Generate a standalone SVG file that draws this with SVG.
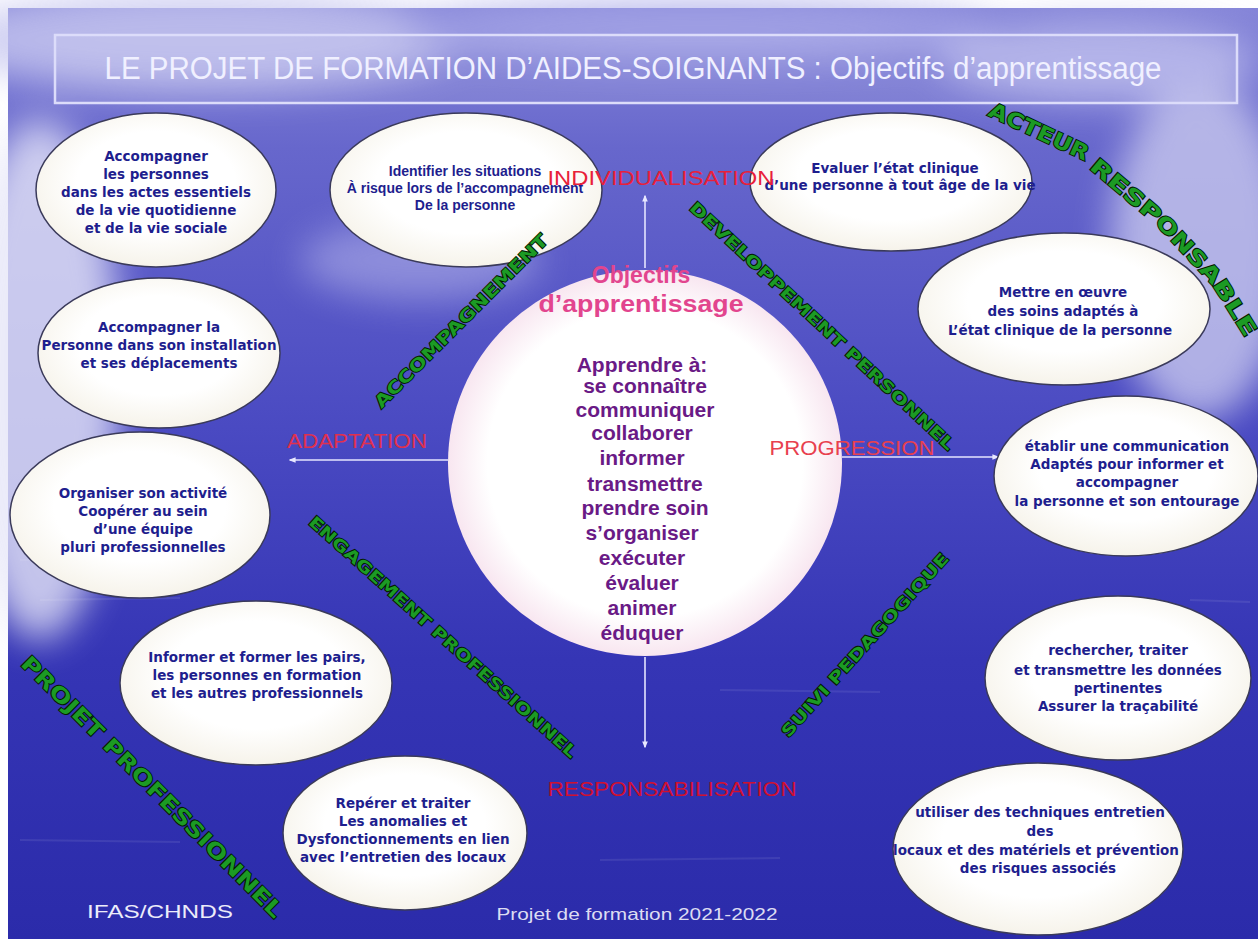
<svg xmlns="http://www.w3.org/2000/svg" width="1258" height="939" viewBox="0 0 1258 939">
<defs>
<linearGradient id="bg" x1="0" y1="0" x2="0" y2="1">
<stop offset="0" stop-color="#8585d8"/>
<stop offset="0.15" stop-color="#6767cc"/>
<stop offset="0.45" stop-color="#4a4ac2"/>
<stop offset="0.7" stop-color="#3535b5"/>
<stop offset="1" stop-color="#2b2baa"/>
</linearGradient>
<radialGradient id="ell" cx="0.5" cy="0.45" r="0.55">
<stop offset="0.6" stop-color="#ffffff"/>
<stop offset="1" stop-color="#f6f3ea"/>
</radialGradient>
<radialGradient id="circ" cx="0.5" cy="0.5" r="0.5">
<stop offset="0.8" stop-color="#ffffff"/>
<stop offset="1" stop-color="#f8e6f0"/>
</radialGradient>
<filter id="blur" x="-0.3" y="-0.3" width="1.6" height="1.6"><feGaussianBlur stdDeviation="18"/></filter>
<marker id="ah" viewBox="0 0 10 10" refX="8" refY="5" markerWidth="7" markerHeight="7" orient="auto" markerUnits="userSpaceOnUse">
<path d="M0,1 L10,5 L0,9 Z" fill="#e8e8ff"/>
</marker>
<clipPath id="c2"><ellipse cx="159" cy="353" rx="121" ry="75"/></clipPath>
<clipPath id="c9"><ellipse cx="1126" cy="476" rx="132" ry="80"/></clipPath>
<clipPath id="c11"><ellipse cx="1038" cy="849" rx="145" ry="86"/></clipPath>
</defs>
<style>
.node ellipse{fill:url(#ell);stroke:#3a3a5a;stroke-width:1.5}
.nt{font-family:"DejaVu Sans","Liberation Sans",sans-serif;font-weight:bold;font-size:13.5px;fill:#1e1e8e;text-anchor:middle}
.nc{font-family:"Liberation Sans",Arial,sans-serif;font-size:14px}
.red{font-family:"Liberation Sans",Arial,sans-serif;font-size:21px;text-anchor:middle}
.green{font-family:"DejaVu Sans","Liberation Sans",sans-serif;font-weight:bold;fill:#1c9a24;stroke:#021a02;stroke-width:1.8;paint-order:stroke;text-anchor:middle;dominant-baseline:central}
.gs{text-anchor:start}
.conn line{stroke:#e4e4ff;stroke-width:1.6;marker-end:url(#ah)}
.purple{font-family:"Liberation Sans",Arial,sans-serif;font-weight:bold;font-size:21px;fill:#6a1a86;text-anchor:middle}
.pink{font-family:"Liberation Sans",Arial,sans-serif;font-weight:bold;font-size:23px;fill:#e2458e;text-anchor:middle}
</style>
<rect width="1258" height="939" fill="#ffffff"/>
<rect x="8" y="8" width="1250" height="931" fill="url(#bg)"/>
<g filter="url(#blur)" opacity="0.8">
<ellipse cx="40" cy="380" rx="80" ry="260" fill="#e6e6f8"/>
<ellipse cx="200" cy="40" rx="260" ry="50" fill="#c8c8f0"/>
<ellipse cx="1200" cy="250" rx="90" ry="170" fill="#c8c8ee"/>
<ellipse cx="700" cy="30" rx="300" ry="30" fill="#a8a8e8"/>
<ellipse cx="1100" cy="60" rx="160" ry="40" fill="#b8b8ec"/>
<ellipse cx="420" cy="260" rx="120" ry="40" fill="#9a9ae0"/>
</g>
<g opacity="0.08" stroke="#ffffff" stroke-width="2">
<line x1="20" y1="560" x2="200" y2="562"/><line x1="40" y1="600" x2="180" y2="598"/>
<line x1="720" y1="690" x2="880" y2="692"/><line x1="1190" y1="600" x2="1250" y2="602"/>
<line x1="20" y1="840" x2="180" y2="842"/><line x1="600" y1="860" x2="780" y2="858"/>
</g>
<g id="title">
<rect x="55" y="35" width="1182" height="68" fill="#ffffff" fill-opacity="0.1" stroke="#dcdcfa" stroke-width="2.5"/>
<text x="633" y="79" font-family="Liberation Sans Narrow,Liberation Sans,Arial,sans-serif" font-size="31" fill="#f0f0ff" text-anchor="middle" textLength="1057" lengthAdjust="spacingAndGlyphs">LE PROJET DE FORMATION D’AIDES-SOIGNANTS : Objectifs d’apprentissage</text>
</g>
<g id="center">
<ellipse cx="645" cy="463" rx="197" ry="193" fill="url(#circ)"/>
<text class="pink" x="641" y="283">Objectifs</text>
<text class="pink" x="641" y="312" textLength="205" lengthAdjust="spacingAndGlyphs">d’apprentissage</text>
<text class="purple" x="642" y="372">Apprendre à:</text>
<text class="purple" x="645" y="393">se connaître</text>
<text class="purple" x="645" y="417">communiquer</text>
<text class="purple" x="642" y="440">collaborer</text>
<text class="purple" x="642" y="465">informer</text>
<text class="purple" x="645" y="491">transmettre</text>
<text class="purple" x="645" y="515">prendre soin</text>
<text class="purple" x="642" y="540">s’organiser</text>
<text class="purple" x="642" y="565">exécuter</text>
<text class="purple" x="642" y="590">évaluer</text>
<text class="purple" x="642" y="615">animer</text>
<text class="purple" x="642" y="640">éduquer</text>
</g>
<g id="connectors" class="conn">
<line x1="645" y1="268" x2="645" y2="196"/>
<line x1="448" y1="460" x2="290" y2="460"/>
<line x1="842" y1="457" x2="998" y2="457"/>
<line x1="645" y1="657" x2="645" y2="747"/>
</g>
<g id="n1" class="node">
<ellipse cx="156" cy="190" rx="120" ry="77"/>
<text class="nt"><tspan x="156" y="161">Accompagner</tspan><tspan x="156" y="179">les personnes</tspan><tspan x="156" y="197">dans les actes essentiels</tspan><tspan x="156" y="215">de la vie quotidienne</tspan><tspan x="156" y="233">et de la vie sociale</tspan></text>
</g>
<g id="n2" class="node">
<ellipse cx="159" cy="353" rx="121" ry="75"/>
<text class="nt" clip-path="url(#c2)"><tspan x="159" y="332">Accompagner la</tspan><tspan x="159" y="350">Personne dans son installation</tspan><tspan x="159" y="368">et ses déplacements</tspan></text>
</g>
<g id="n3" class="node">
<ellipse cx="140" cy="515" rx="130" ry="83"/>
<text class="nt"><tspan x="143" y="498">Organiser son activité</tspan><tspan x="143" y="516">Coopérer au sein</tspan><tspan x="143" y="534">d’une équipe</tspan><tspan x="143" y="552">pluri professionnelles</tspan></text>
</g>
<g id="n4" class="node">
<ellipse cx="256" cy="683" rx="136" ry="82"/>
<text class="nt"><tspan x="257" y="662">Informer et former les pairs,</tspan><tspan x="257" y="680">les personnes en formation</tspan><tspan x="257" y="698">et les autres professionnels</tspan></text>
</g>
<g id="n5" class="node">
<ellipse cx="405" cy="833" rx="122" ry="77"/>
<text class="nt"><tspan x="403" y="808">Repérer et traiter</tspan><tspan x="403" y="826">Les anomalies et</tspan><tspan x="403" y="844">Dysfonctionnements en lien</tspan><tspan x="403" y="862">avec l’entretien des locaux</tspan></text>
</g>
<g id="n6" class="node">
<ellipse cx="466" cy="190" rx="136" ry="77"/>
<text class="nt nc"><tspan x="465" y="176">Identifier les situations</tspan><tspan x="465" y="193">À risque lors de l’accompagnement</tspan><tspan x="465" y="210">De la personne</tspan></text>
</g>
<g id="n7" class="node">
<ellipse cx="891" cy="182" rx="141" ry="69"/>
<text class="nt"><tspan x="895" y="173">Evaluer l’état clinique</tspan><tspan x="900" y="190">d’une personne à tout âge de la vie</tspan></text>
</g>
<g id="n8" class="node">
<ellipse cx="1064" cy="309" rx="146" ry="76"/>
<text class="nt"><tspan x="1063" y="297">Mettre  en œuvre</tspan><tspan x="1063" y="316">des soins adaptés à</tspan><tspan x="1060" y="335">L’état clinique de la personne</tspan></text>
</g>
<g id="n9" class="node">
<ellipse cx="1126" cy="476" rx="132" ry="80"/>
<text class="nt" clip-path="url(#c9)"><tspan x="1127" y="451">établir une communication</tspan><tspan x="1127" y="469">Adaptés pour informer et</tspan><tspan x="1127" y="487">accompagner</tspan><tspan x="1127" y="506">la personne et son entourage</tspan></text>
</g>
<g id="n10" class="node">
<ellipse cx="1118" cy="678" rx="133" ry="82"/>
<text class="nt"><tspan x="1118" y="655">rechercher, traiter</tspan><tspan x="1118" y="675">et transmettre les données</tspan><tspan x="1118" y="693">pertinentes</tspan><tspan x="1118" y="711">Assurer la traçabilité</tspan></text>
</g>
<g id="n11" class="node">
<ellipse cx="1038" cy="849" rx="145" ry="86"/>
<text class="nt" clip-path="url(#c11)"><tspan x="1040" y="817">utiliser  des techniques entretien</tspan><tspan x="1040" y="836">des</tspan><tspan x="1036" y="855">locaux et des matériels et prévention</tspan><tspan x="1038" y="873">des  risques associés</tspan></text>
</g>
<g id="axis-labels">
<text class="red" x="661" y="185" fill="#e8203a" textLength="227" lengthAdjust="spacingAndGlyphs">INDIVIDUALISATION</text>
<text class="red" x="357" y="448" fill="#e0304e" textLength="140" lengthAdjust="spacingAndGlyphs">ADAPTATION</text>
<text class="red" x="852" y="455" fill="#e8404e" textLength="165" lengthAdjust="spacingAndGlyphs">PROGRESSION</text>
<text class="red" x="672" y="796" fill="#d01030" textLength="249" lengthAdjust="spacingAndGlyphs">RESPONSABILISATION</text>
</g>
<g id="themes">
<text class="green" font-size="17" transform="translate(461,321) rotate(-45)" textLength="237" lengthAdjust="spacingAndGlyphs">ACCOMPAGNEMENT</text>
<text class="green" font-size="16" transform="translate(822,326) rotate(43)" textLength="355" lengthAdjust="spacingAndGlyphs">DEVELOPPEMENT PERSONNEL</text>
<text class="green" font-size="16" transform="translate(443,637) rotate(41.8)" textLength="353" lengthAdjust="spacingAndGlyphs">ENGAGEMENT PROFESSIONNEL</text>
<text class="green" font-size="16" transform="translate(865,645) rotate(-48)" textLength="241" lengthAdjust="spacingAndGlyphs">SUIVI PEDAGOGIQUE</text>
<text class="green" font-size="21" transform="translate(152,787) rotate(45)" textLength="360" lengthAdjust="spacingAndGlyphs">PROJET PROFESSIONNEL</text>
<g id="acteur-responsable">
<text class="green gs" font-size="21" transform="translate(990,109) rotate(25)" textLength="108" lengthAdjust="spacingAndGlyphs">ACTEUR</text>
<text class="green gs" font-size="21" transform="translate(1093,163) rotate(40)" textLength="86" lengthAdjust="spacingAndGlyphs">RESP</text>
<text class="green gs" font-size="21" transform="translate(1159,218) rotate(47)" textLength="86" lengthAdjust="spacingAndGlyphs">ONSA</text>
<text class="green gs" font-size="21" transform="translate(1218,281) rotate(58)" textLength="63" lengthAdjust="spacingAndGlyphs">BLE</text>
</g>
</g>
<g id="footer">
<text x="160" y="918" font-family="Liberation Sans,Arial,sans-serif" font-size="19" fill="#ececfa" text-anchor="middle" textLength="146" lengthAdjust="spacingAndGlyphs">IFAS/CHNDS</text>
<text x="637" y="920" font-family="Liberation Sans,Arial,sans-serif" font-size="17" fill="#dcdcf2" text-anchor="middle" textLength="281" lengthAdjust="spacingAndGlyphs">Projet de formation  2021-2022</text>
</g>
</svg>
